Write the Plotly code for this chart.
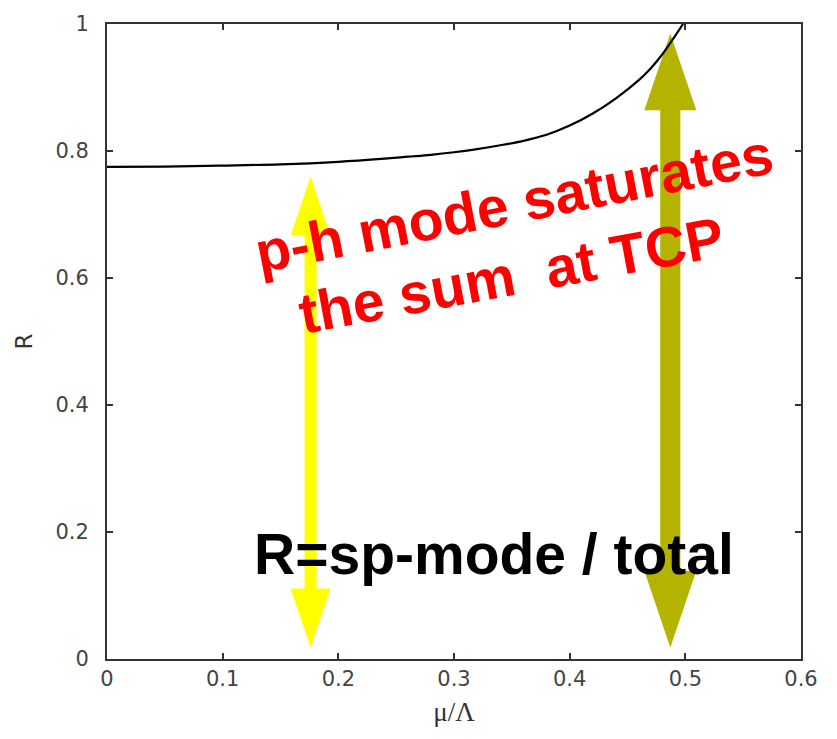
import plotly.graph_objects as go

# ---- data ----
mu_over_lambda = [0.0, 0.05, 0.10, 0.15, 0.20, 0.24, 0.26, 0.28, 0.30, 0.32, 0.34, 0.36,
                  0.38, 0.40, 0.42, 0.44, 0.46, 0.47, 0.48, 0.49, 0.498]
R_values = [0.775, 0.7755, 0.777, 0.779, 0.783, 0.788, 0.791, 0.794, 0.798, 0.803, 0.809, 0.816,
            0.8255, 0.840, 0.859, 0.883, 0.912, 0.930, 0.952, 0.978, 1.0]

arrow_x = [0.176, 0.487]          # arrow centre positions (mu/Lambda)
arrow_low = [0.018, 0.018]        # lower tips (R)
arrow_high = [0.760, 0.985]       # upper tips (R)
arrow_colors = ["#FFFF00", "#B4B400"]

x_ticks = [0, 0.1, 0.2, 0.3, 0.4, 0.5, 0.6]
x_tick_labels = ["0", "0.1", "0.2", "0.3", "0.4", "0.5", "0.6"]
y_ticks = [0, 0.2, 0.4, 0.6, 0.8, 1.0]
y_tick_labels = ["0", "0.2", "0.4", "0.6", "0.8", "1"]

label_line1 = "p-h mode saturates"
label_line2 = "the sum  at TCP"
label_ratio = "R=sp-mode / total"

# ---- style (sizes in data units per arrow) ----
head_len = [0.093, 0.121]
head_half = [0.0173, 0.0225]
shaft_half = [0.0052, 0.0087]

fig = go.Figure()

for i in range(len(arrow_x)):
    cx, lo, hi = arrow_x[i], arrow_low[i], arrow_high[i]
    hl, hh, sh = head_len[i], head_half[i], shaft_half[i]
    xs = [cx, cx + hh, cx + sh, cx + sh, cx + hh, cx, cx - hh, cx - sh, cx - sh, cx - hh, cx]
    ys = [hi, hi - hl, hi - hl, lo + hl, lo + hl, lo, lo + hl, lo + hl, hi - hl, hi - hl, hi]
    fig.add_trace(go.Scatter(x=xs, y=ys, mode="lines", fill="toself",
                             fillcolor=arrow_colors[i], line=dict(width=0, color=arrow_colors[i]),
                             hoverinfo="skip", showlegend=False))

fig.add_trace(go.Scatter(x=mu_over_lambda, y=R_values, mode="lines",
                         line=dict(color="black", width=2.2, shape="spline", smoothing=1.0),
                         showlegend=False))

red_font = dict(family="Liberation Sans", size=57, color="#FF0000")
fig.add_annotation(x=0.352, y=0.718, xref="x", yref="y", text="<b>" + label_line1 + "</b>",
                   showarrow=False, textangle=-11, font=red_font)
fig.add_annotation(x=0.350, y=0.604, xref="x", yref="y", text="<b>" + label_line2 + "</b>",
                   showarrow=False, textangle=-10.5, font=red_font)
fig.add_annotation(x=0.335, y=0.165, xref="x", yref="y", text="<b>" + label_ratio + "</b>",
                   showarrow=False, font=dict(family="Liberation Sans", size=57, color="black"))

axis_common = dict(showline=True, linecolor="#333333", linewidth=2, mirror="allticks",
                   ticks="inside", ticklen=6, tickwidth=2, tickcolor="#333333",
                   showgrid=False, zeroline=False,
                   tickfont=dict(family="DejaVu Sans", size=21, color="#444444"))

fig.update_xaxes(range=[0, 0.6], tickvals=x_ticks, ticktext=x_tick_labels,
                 title=dict(text="μ/Λ", font=dict(family="Liberation Serif", size=27, color="#333333"),
                            standoff=12), **axis_common)
fig.update_yaxes(range=[0, 1], tickvals=y_ticks, ticktext=y_tick_labels, ticklabelstandoff=12,
                 title=dict(text="R", font=dict(family="DejaVu Sans", size=23, color="#333333"),
                            standoff=16), **axis_common)

fig.update_layout(width=837, height=739, margin=dict(l=107, r=36, t=12, b=80),
                  plot_bgcolor="white", paper_bgcolor="white")

fig.write_html("out.html")
